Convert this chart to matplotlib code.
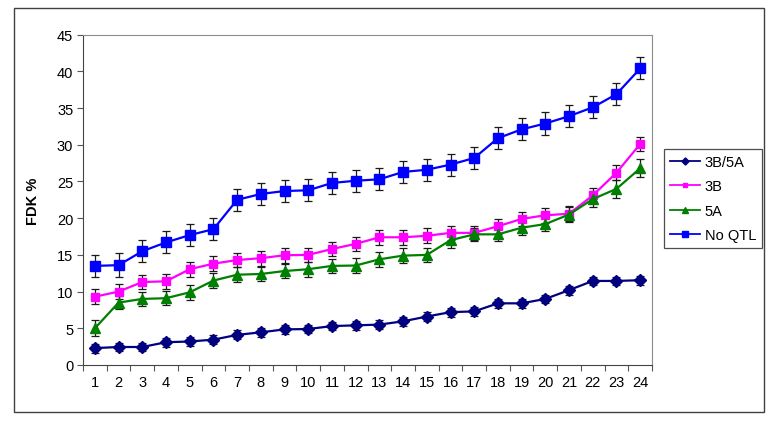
import numpy as np
import matplotlib
matplotlib.use('Agg')
import matplotlib.pyplot as plt
from matplotlib.patches import Rectangle

plt.rcParams['font.family'] = ['Liberation Sans', 'DejaVu Sans']

# data
lines_x = list(range(1, 25))
x_labels = [str(i) for i in lines_x]

s_3b5a = [2.3, 2.45, 2.45, 3.1, 3.2, 3.45, 4.1, 4.45, 4.85, 4.9, 5.3, 5.4,
          5.5, 5.95, 6.6, 7.2, 7.3, 8.4, 8.4, 9.0, 10.2, 11.45, 11.45, 11.55]
s_3b = [9.3, 10.0, 11.3, 11.4, 13.05, 13.8, 14.3, 14.55, 14.95, 15.0, 15.8, 16.5,
        17.4, 17.4, 17.6, 18.0, 18.0, 18.9, 19.9, 20.4, 20.6, 23.1, 26.2, 30.1]
s_5a = [5.0, 8.5, 9.0, 9.1, 9.9, 11.5, 12.3, 12.4, 12.8, 13.05, 13.5, 13.55,
        14.4, 14.9, 15.0, 17.0, 17.8, 17.8, 18.7, 19.2, 20.5, 22.6, 24.0, 26.8]
s_noqtl = [13.5, 13.6, 15.5, 16.7, 17.7, 18.5, 22.5, 23.3, 23.7, 23.8, 24.8, 25.1,
           25.3, 26.3, 26.6, 27.3, 28.2, 30.9, 32.1, 32.9, 33.9, 35.1, 36.9, 40.4]

err_3b5a = [0.6] * 24
err_3b = [1.0] * 24
err_5a = [1.1, 0.9, 0.95, 0.95, 1.0, 1.0, 1.0, 1.0, 1.0, 1.0, 1.0, 1.0,
          1.0, 1.0, 1.0, 1.0, 0.9, 0.9, 1.0, 1.0, 1.0, 1.1, 1.2, 1.25]
err_noqtl = [1.5, 1.6, 1.5, 1.5, 1.5, 1.5, 1.5, 1.5, 1.5, 1.5, 1.5, 1.5,
             1.5, 1.5, 1.5, 1.5, 1.5, 1.5, 1.5, 1.5, 1.5, 1.5, 1.5, 1.5]

series = [
    ('3B/5A', s_3b5a, err_3b5a, '#000080', 'D', 6.0),
    ('3B', s_3b, err_3b, '#FF00FF', 's', 6.0),
    ('5A', s_5a, err_5a, '#008000', '^', 7.5),
    ('No QTL', s_noqtl, err_noqtl, '#0000FF', 's', 7.0),
]

fs = 10.5

fig = plt.figure(figsize=(7.78, 4.27), dpi=100)
ax = fig.add_axes([0.1067, 0.1429, 0.7314, 0.7735])

handles = []
for name, vals, err, col, mk, ms in series:
    ax.errorbar(lines_x, vals, yerr=err, fmt='none', ecolor='#1a1a1a',
                elinewidth=0.9, capsize=3, capthick=0.9, zorder=2)
    h, = ax.plot(lines_x, vals, color=col, marker=mk, markersize=ms,
                 linewidth=1.6, markeredgecolor=col, label=name, zorder=3)
    handles.append(h)

ax.set_xlim(0.5, 24.5)
ax.set_ylim(0, 45)
ax.set_yticks(np.arange(0, 46, 5))
ax.set_xticks(np.arange(0.5, 25, 1))
ax.set_xticklabels([])
ax.set_xticks(lines_x, minor=True)
ax.set_xticklabels(x_labels, minor=True)
ax.tick_params(axis='x', which='minor', length=0, pad=7, labelsize=fs)
ax.tick_params(axis='x', which='major', length=4, direction='out', color='#555555')
ax.tick_params(axis='y', length=4, direction='out', color='#555555', labelsize=fs, pad=3)

for side in ['left', 'bottom']:
    ax.spines[side].set_color('#444444')
for side in ['top', 'right']:
    ax.spines[side].set_color('#8c8c8c')

ax.set_ylabel('FDK %', fontsize=fs, fontweight='bold', labelpad=12)

leg = fig.legend(handles=handles, loc='upper left', bbox_to_anchor=(0.8535, 0.6487),
                 bbox_transform=fig.transFigure, borderaxespad=0, fontsize=fs,
                 frameon=True, fancybox=False, edgecolor='#222222', borderpad=0.4,
                 labelspacing=0.72, handlelength=2.1, handletextpad=0.3, markerscale=0.6)
leg.get_frame().set_linewidth(0.9)
for lh in leg.get_lines():
    lh.set_linewidth(1.3)

# outer chart border
fig.patches.append(Rectangle((0.018, 0.0328), 0.964, 0.945, transform=fig.transFigure,
                             fill=False, edgecolor='#404040', linewidth=1.0))

fig.savefig('out.png', dpi=100)
